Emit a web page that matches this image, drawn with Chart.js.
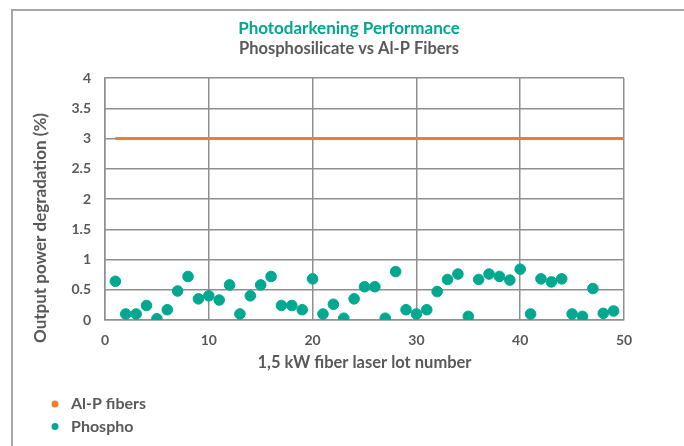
<!DOCTYPE html>
<html>
<head>
<meta charset="utf-8">
<script src="https://cdn.jsdelivr.net/npm/chart.js@4"></script>
<style>
  html, body { margin: 0; padding: 0; background: #fff; overflow: hidden; }
  #wrap { position: relative; width: 684px; height: 446px; }
  #frame { position: absolute; left: 11px; top: 9px; width: 700px; height: 470px; border: 2px solid #a6a6a6; box-sizing: border-box; }
  canvas { position: absolute; left: 0; top: 0; }
</style>
</head>
<body>
<div id="wrap">
  <div id="frame"></div>
  <canvas id="grafico" width="684" height="446"></canvas>
</div>
<script>
// dati
const lotNumbers = [1, 2, 3, 4, 5, 6, 7, 8, 9, 10, 11, 12, 13, 14, 15, 16, 17, 18, 19, 20,
  21, 22, 23, 24, 25, 26, 27, 28, 29, 30, 31, 32, 33, 34, 35, 36, 37, 38, 39, 40,
  41, 42, 43, 44, 45, 46, 47, 48, 49];
const phosphoValues = [0.64, 0.10, 0.10, 0.24, 0.02, 0.17, 0.48, 0.72, 0.35, 0.40,
  0.33, 0.58, 0.10, 0.40, 0.58, 0.72, 0.24, 0.24, 0.17, 0.68,
  0.10, 0.26, 0.03, 0.35, 0.55, 0.55, 0.03, 0.80, 0.17, 0.10,
  0.17, 0.47, 0.67, 0.76, 0.06, 0.67, 0.76, 0.72, 0.66, 0.84,
  0.10, 0.68, 0.63, 0.68, 0.10, 0.06, 0.52, 0.11, 0.15];
const alpLots = [1, 50];
const alpValues = [3, 3];
const xTicks = [0, 10, 20, 30, 40, 50];
const yTicks = [0, 0.5, 1, 1.5, 2, 2.5, 3, 3.5, 4];

const titolo = 'Photodarkening Performance';
const sottotitolo = 'Phosphosilicate vs Al-P Fibers';
const titoloY = 'Output power degradation (%)';

const grigioTesto = '#595959';
const grigioGriglia = '#8f8f8f';
const fontBase = 'Lato, "Open Sans", sans-serif';

// titoli e legenda disegnati a mano, come nel grafico Excel
const testiExtra = {
    id: 'testiExtra',
    afterDraw(chart) {
        const ctx = chart.ctx;
        ctx.save();
        ctx.textAlign = 'center';
        ctx.textBaseline = 'middle';
        ctx.font = 'bold 17px ' + fontBase;
        ctx.fillStyle = '#00A88F';
        ctx.fillText(titolo, 349, 29);
        ctx.font = 'bold 16.5px ' + fontBase;
        ctx.fillStyle = grigioTesto;
        ctx.fillText(sottotitolo, 349, 49);

        ctx.save();
        ctx.translate(41, 228);
        ctx.rotate(-Math.PI / 2);
        ctx.font = 'bold 17px ' + fontBase;
        ctx.fillText(titoloY, 0, 0);
        ctx.restore();

        ctx.textAlign = 'left';
        chart.data.datasets.forEach((ds, i) => {
            const y = 404 + i * 22.5;
            ctx.fillStyle = ds.legendColor;
            ctx.beginPath();
            ctx.arc(55, y, 3.5, 0, Math.PI * 2);
            ctx.fill();
            ctx.fillStyle = grigioTesto;
            ctx.font = 'bold 16px ' + fontBase;
            ctx.fillText(ds.label, 71, y);
        });
        ctx.restore();
    }
};

const ctx = document.getElementById('grafico').getContext('2d');
new Chart(ctx, {
    type: 'scatter',
    data: {
        datasets: [{
            type: 'line',
            label: 'Al-P fibers',
            data: alpLots.map((x, i) => ({ x: x, y: alpValues[i] })),
            borderColor: '#ED7D31',
            legendColor: '#ED7D31',
            borderWidth: 3,
            pointRadius: 0,
            fill: false
        }, {
            label: 'Phospho',
            data: lotNumbers.map((x, i) => ({ x: x, y: phosphoValues[i] })),
            backgroundColor: '#00A88F',
            borderColor: '#00A88F',
            legendColor: '#00A88F',
            pointRadius: 5.3,
            pointHoverRadius: 5.3
        }]
    },
    options: {
        responsive: false,
        animation: false,
        layout: { padding: { left: 25, right: 60, top: 78, bottom: 70 } },
        scales: {
            x: {
                type: 'linear',
                min: 0,
                max: 50,
                afterBuildTicks: (scale) => { scale.ticks = xTicks.map(v => ({ value: v })); },
                ticks: { color: grigioTesto, font: { family: fontBase, size: 14, weight: 'bold' }, padding: 12 },
                grid: { color: grigioGriglia, lineWidth: 1.5, drawTicks: false },
                border: { color: grigioGriglia, width: 1.5 },
                title: {
                    display: true,
                    text: '1,5 kW fiber laser lot number',
                    color: grigioTesto,
                    font: { family: fontBase, size: 16.5, weight: 'bold' },
                    padding: { top: -7.6, bottom: 3 }
                }
            },
            y: {
                min: 0,
                max: 4,
                afterBuildTicks: (scale) => { scale.ticks = yTicks.map(v => ({ value: v })); },
                afterFit: (scale) => { scale.width = 80; },
                ticks: {
                    color: grigioTesto,
                    font: { family: fontBase, size: 14, weight: 'bold' },
                    padding: 14,
                    callback: (value) => String(value)
                },
                grid: { color: grigioGriglia, lineWidth: 1.5, drawTicks: false },
                border: { color: grigioGriglia, width: 1.5 }
            }
        },
        plugins: {
            legend: { display: false },
            tooltip: { enabled: false }
        }
    },
    plugins: [testiExtra]
});
</script>
</body>
</html>
